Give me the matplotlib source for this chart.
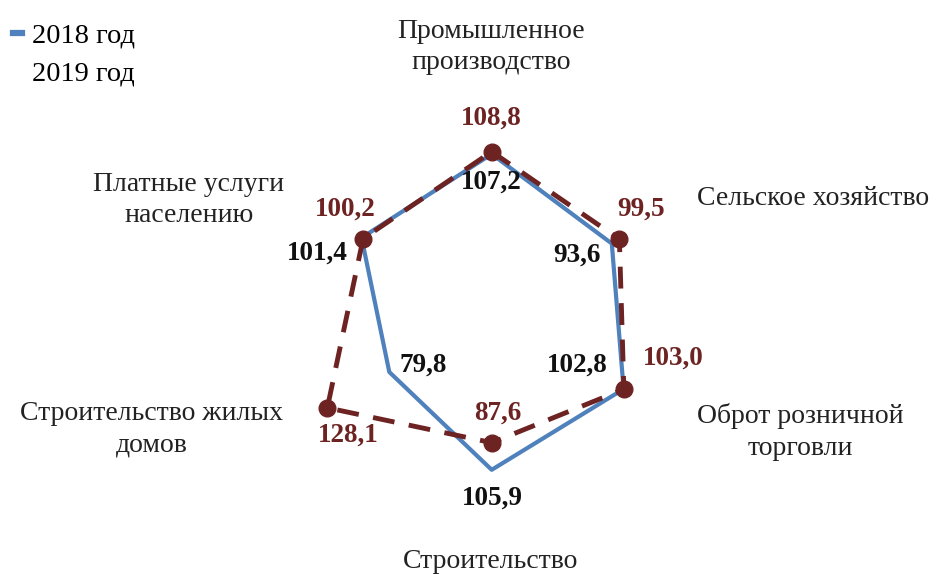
import numpy as np
import matplotlib
matplotlib.use('Agg')
import matplotlib.pyplot as plt
from matplotlib.lines import Line2D

plt.rcParams['font.family'] = ['Liberation Serif', 'DejaVu Serif']

categories = ['Промышленное\nпроизводство', 'Сельское хозяйство',
              'Оброт розничной\nторговли', 'Строительство',
              'Строительство жилых\nдомов', 'Платные услуги\nнаселению']
v2018 = [107.2, 93.6, 102.8, 105.9, 79.8, 101.4]
v2019 = [108.8, 99.5, 103.0, 87.6, 128.1, 100.2]
labels2018 = ['107,2', '93,6', '102,8', '105,9', '79,8', '101,4']
labels2019 = ['108,8', '99,5', '103,0', '87,6', '128,1', '100,2']

blue = '#4F81BD'
red = '#6E2323'

# label offsets in pixels (dx, dy up)
off2018 = [(0, -28), (-35, -12), (-46, 24), (1, -28), (34, 7), (-44, -15)]
off2019 = [(0, 34), (22, 30), (49, 31), (6, 30), (21, -27), (-18, 29)]

W, H = 941, 574
cx, cy = 491.7, 312.9   # centre, px from top
rmax = 140.0
k = 1.4817               # px per unit
R = rmax * k

fig = plt.figure(figsize=(W / 100, H / 100), dpi=100)
ax = fig.add_axes([(cx - R) / W, (H - cy - R) / H, 2 * R / W, 2 * R / H], projection='polar')
ax.set_theta_offset(np.pi / 2)
ax.set_theta_direction(-1)
ax.set_ylim(0, rmax)
ax.grid(False)
ax.set_xticks([])
ax.set_yticks([])
ax.spines['polar'].set_visible(False)
ax.patch.set_visible(False)

theta = np.linspace(0, 2 * np.pi, len(categories), endpoint=False)
t = np.append(theta, theta[0])

ax.plot(t, v2018 + v2018[:1], color=blue, lw=3, clip_on=False, zorder=2)
ax.plot(t, v2019 + v2019[:1], color=red, lw=3.5, dashes=(4.5, 3), clip_on=False, zorder=3)
ax.plot(theta, v2019, 'o', color=red, ms=12, clip_on=False, zorder=4)

for i in range(len(theta)):
    ax.annotate(labels2018[i], (theta[i], v2018[i]), xytext=off2018[i], textcoords='offset pixels',
                ha='center', va='center', fontsize=19.5, fontweight='bold', color='#111111', zorder=5)
    ax.annotate(labels2019[i], (theta[i], v2019[i]), xytext=off2019[i], textcoords='offset pixels',
                ha='center', va='center', fontsize=19.5, fontweight='bold', color=red, zorder=5)

# category labels (px positions)
cat_pos = [(491, 47), (813, 199), (800, 432), (491, 561), (152, 429), (189, 200)]
for name, (px, py) in zip(categories, cat_pos):
    fig.text(px / W, 1 - py / H, name, ha='center', va='center', fontsize=20,
             color='#222222', linespacing=1.35)

handles = [Line2D([], [], color=blue, lw=4.5),
           Line2D([], [], color='none', lw=0)]
fig.legend(handles, ['2018 год', '2019 год'], loc='upper left', bbox_to_anchor=(13 / W, 1 - 23 / H),
           frameon=False, fontsize=20.5, handlelength=0.3, handletextpad=0.35,
           labelspacing=0.42, borderaxespad=0, borderpad=0)

fig.savefig('out.png', dpi=100)
